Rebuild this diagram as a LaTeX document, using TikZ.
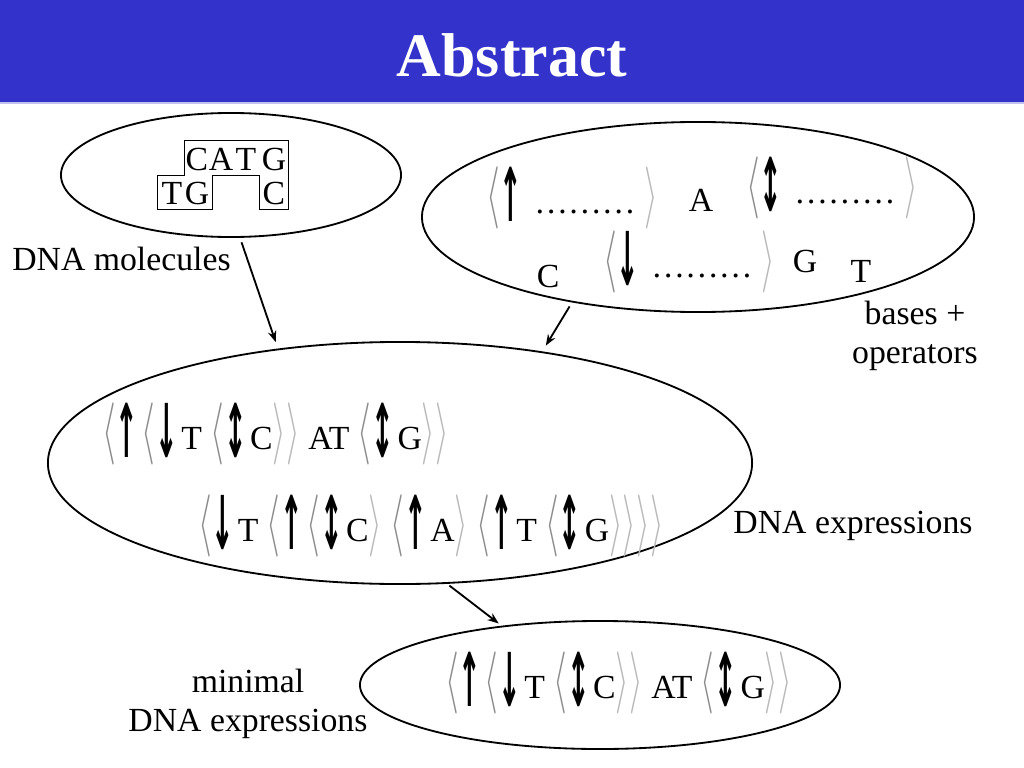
\documentclass[tikz,border=0pt]{standalone}
\usepackage{amsmath,amssymb}
\usepackage{xcolor}
\usepackage{graphicx}
\usepackage{fontspec}
\setmainfont{Liberation Serif}
\newfontfamily\arrowfont{DejaVu Sans}
\usetikzlibrary{shapes.geometric,arrows.meta,positioning,calc}

\definecolor{titleblue}{RGB}{51,51,204}
\newcommand{\opl}{\textcolor{gray!90}{\scalebox{1}[1.78]{$\langle$}}}
\newcommand{\opr}{\textcolor{gray!55}{\scalebox{1}[1.78]{$\rangle$}}}
\newcommand{\oparrow}[1]{\raisebox{-0.25em}[1.25em][0.25em]{\scalebox{0.8}[2.2]{\arrowfont\bfseries #1}}\hspace{0.1em}}
\newcommand{\opup}{\oparrow{↑}}
\newcommand{\opdn}{\oparrow{↓}}
\newcommand{\opud}{\oparrow{↕}}

\begin{document}
\begin{tikzpicture}[x=0.025cm, y=-0.025cm, >={Stealth[length=8pt, width=6pt]},
  blob/.style={draw, ellipse, line width=1.3pt, inner sep=0pt, outer sep=0pt},
  lbl/.style={font=\fontsize{24}{28}\selectfont, inner sep=0pt, align=center},
  seq/.style={font=\fontsize{24}{28}\selectfont, inner sep=0pt, anchor=base west},
  letter/.style={font=\fontsize{24}{28}\selectfont, inner sep=0pt, anchor=base},
  link/.style={->, line width=1.3pt}]
\useasboundingbox (0,0) rectangle (1024,768);

% title bar
\fill[titleblue] (0,0) rectangle (1024,102);
\draw[titleblue!30, line width=1pt] (0,103) -- (1024,103);
\node[font=\fontsize{44}{50}\selectfont\bfseries, text=white, inner sep=0pt, anchor=base] (title) at (512,77) {Abstract};

% ellipses
\node[blob, minimum width=8.5cm, minimum height=3.1cm] (mol) at (231,175) {};
\node[blob, minimum width=13.8cm, minimum height=4.75cm] (ops) at (698,217) {};
\node[blob, minimum width=17.6cm, minimum height=6.05cm] (expr) at (400,463) {};
\node[blob, minimum width=12cm, minimum height=3.2cm] (mini) at (600,685) {};

% DNA molecule
\draw[line width=0.6pt] (184,140) -- (288,140) -- (288,209) -- (259,209) -- (259,175)
  -- (212,175) -- (212,209) -- (157,209) -- (157,175) -- (184,175) -- cycle;
\node[letter] (c1) at (197,171) {C};
\node[letter] (a1) at (221,171) {A};
\node[letter] (t1) at (246,171) {T};
\node[letter] (g1) at (274,171) {G};
\node[letter] (t2) at (172,204) {T};
\node[letter] (g2) at (197,204) {G};
\node[letter] (c2) at (274,204) {C};

% bases and operators
\node[seq] (opsup) at (486,213) {\opl\opup{} ……… \opr};
\node[letter] (opsA) at (701,211) {A};
\node[seq] (opsud) at (746,203) {\opl\opud{} ……… \opr};
\node[letter] (opsC) at (548,287) {C};
\node[seq] (opsdn) at (603,277) {\opl\opdn{} ……… \opr};
\node[letter] (opsG) at (805,272) {G};
\node[letter] (opsT) at (861,282) {T};

% DNA expressions
\node[seq] (expr1) at (102,449) {\opl\opup\opl\opdn T \opl\opud C\opr\opr{} AT \opl\opud G\opr\opr};
\node[seq] (expr2) at (198,541) {\opl\opdn T \opl\opup\opl\opud C\opr{} \opl\opup A\opr{} \opl\opup T \opl\opud G\opr\opr\opr\opr};
\node[seq] (mini1) at (445,698) {\opl\opup\opl\opdn T \opl\opud C\opr\opr{} AT \opl\opud G\opr\opr};

% labels
\node[lbl, anchor=base west] (mollbl) at (12,270) {DNA molecules};
\node[lbl] (opslbl) at (915,336) {bases +\\operators};
\node[lbl, anchor=base] (exprlbl) at (853,533) {DNA expressions};
\node[lbl] (minilbl) at (248,704) {minimal\\DNA expressions};

% arrows
\draw[link, shorten <=4pt, shorten >=5.5pt] (mol.-82) -- (expr.137);
\draw[link, shorten <=4pt, shorten >=5.5pt] (ops.214) -- (expr.38);
\draw[link, shorten <=3pt, shorten >=3.5pt] (expr.-69) -- (mini.149);
\end{tikzpicture}
\end{document}
